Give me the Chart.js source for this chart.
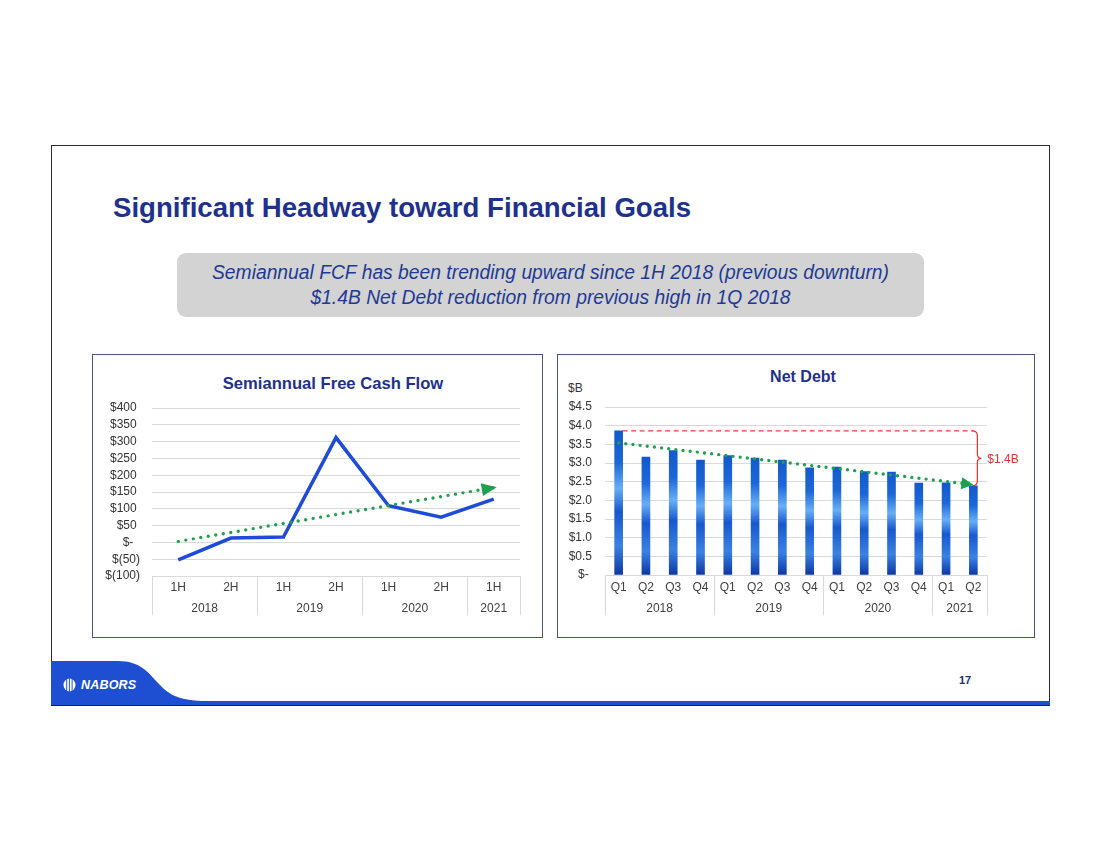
<!DOCTYPE html>
<html>
<head>
<meta charset="utf-8">
<script src="https://cdn.jsdelivr.net/npm/chart.js@4.4.1/dist/chart.umd.min.js"></script>
<style>
  html, body { margin: 0; padding: 0; }
  body { width: 1100px; height: 850px; background: #ffffff; position: relative; overflow: hidden;
         font-family: "Liberation Sans", Arial, sans-serif; }
  .abs { position: absolute; }
  #title { left: 113px; top: 191px; font-size: 27.6px; line-height: 34px; font-weight: bold; color: #1E318C; white-space: nowrap; }
  #callout { left: 177px; top: 253px; width: 747px; height: 64px; background: #D3D3D4; border-radius: 9px;
             color: #1F3A93; font-style: italic; font-size: 19.3px; line-height: 25px; text-align: center;
             box-sizing: border-box; padding-top: 7px; white-space: nowrap; }
  .cbox { box-sizing: border-box; border: 1px solid #48547E; background: #ffffff; }
  .ctitle { font-weight: bold; color: #1E318C; text-align: center; line-height: 20px; white-space: nowrap; }
  canvas { position: absolute; }
</style>
</head>
<body>
<script>
// ---------------- DATA ----------------
const fcfPeriods = ['1H', '2H', '1H', '2H', '1H', '2H', '1H'];
const fcfYears   = ['2018', '2018', '2019', '2019', '2020', '2020', '2021'];
const fcfValues  = [-52, 13, 16, 312, 109, 75, 129];
const fcfTrend   = [3, null, null, null, null, null, 163];
const fcfTickValues = [-100, -50, 0, 50, 100, 150, 200, 250, 300, 350, 400];

const debtQuarters = ['Q1', 'Q2', 'Q3', 'Q4', 'Q1', 'Q2', 'Q3', 'Q4', 'Q1', 'Q2', 'Q3', 'Q4', 'Q1', 'Q2'];
const debtYears    = ['2018', '2018', '2018', '2018', '2019', '2019', '2019', '2019',
                      '2020', '2020', '2020', '2020', '2021', '2021'];
const debtValues   = [3.86, 3.16, 3.33, 3.08, 3.20, 3.13, 3.08, 2.87, 2.89, 2.77, 2.76, 2.46, 2.47, 2.39];
const debtTrend    = [3.54, null, null, null, null, null, null, null, null, null, null, null, null, 2.42];
const debtTickValues = [0, 0.5, 1.0, 1.5, 2.0, 2.5, 3.0, 3.5, 4.0, 4.5];
const debtReductionLabel = '$1.4B';
</script>

<svg class="abs" style="left:0;top:0" width="1100" height="850">
  <line x1="51" y1="145.5" x2="1049" y2="145.5" stroke="#2B2B2B" stroke-width="1"/>
  <line x1="51.5" y1="145" x2="51.5" y2="706" stroke="#2B2B2B" stroke-width="1"/>
  <line x1="1049.5" y1="145" x2="1049.5" y2="706" stroke="#2B2B2B" stroke-width="1"/>
  <path d="M51,661 L118,661 C140,661 148,672 158,683 C170,696 180,700 202,701 L1050,701 L1050,706 L51,706 Z" fill="#1E4FD2"/>
  <line x1="51" y1="705.5" x2="1050" y2="705.5" stroke="#12245E" stroke-width="1"/>
  <g>
    <ellipse cx="69.5" cy="685" rx="6" ry="6.5" fill="#ffffff"/>
    <rect x="66.2" y="678" width="1" height="14" fill="#1E4FD2"/>
    <rect x="68.9" y="678" width="1" height="14" fill="#1E4FD2"/>
    <rect x="71.6" y="678" width="1" height="14" fill="#1E4FD2"/>
  </g>
</svg>

<div id="title" class="abs">Significant Headway toward Financial Goals</div>
<div id="callout" class="abs">Semiannual FCF has been trending upward since 1H 2018 (previous downturn)<br>$1.4B Net Debt reduction from previous high in 1Q 2018</div>

<div class="abs cbox" style="left:92px;top:354px;width:451px;height:284px;"></div>
<div class="abs cbox" style="left:557px;top:354px;width:478px;height:284px;"></div>

<div class="abs ctitle" style="left:183px;top:374px;width:300px;font-size:16.6px;">Semiannual Free Cash Flow</div>
<div class="abs ctitle" style="left:703px;top:367px;width:200px;font-size:16px;">Net Debt</div>
<div class="abs" style="left:568px;top:381px;font-size:12px;line-height:14px;color:#333;">$B</div>

<div class="abs" style="left:81px;top:677px;font-size:12.5px;line-height:16px;font-weight:bold;font-style:italic;color:#fff;letter-spacing:0.2px;">NABORS</div>
<div class="abs" style="left:959px;top:673px;font-size:11px;line-height:14px;font-weight:bold;color:#1E2F6E;">17</div>

<canvas id="fcf" width="448" height="281" style="left:93px;top:355px;"></canvas>
<canvas id="debt" width="475" height="281" style="left:558px;top:355px;"></canvas>

<script>
const FONT = '"Liberation Sans", Arial, sans-serif';

const groupAxisPlugin = {
  id: 'groupAxis',
  afterDraw(chart, args, opts) {
    const { ctx, chartArea } = chart;
    const x = chart.scales.x;
    const n = opts.periods.length;
    const half = (x.getPixelForValue(1) - x.getPixelForValue(0)) / 2;
    const b = chartArea.bottom;
    ctx.save();
    ctx.font = '12px ' + FONT;
    ctx.fillStyle = '#404040';
    ctx.textAlign = 'center';
    ctx.textBaseline = 'middle';
    for (let i = 0; i < n; i++) {
      ctx.fillText(opts.periods[i], x.getPixelForValue(i), b + opts.labelOffset);
    }
    const groups = [];
    let start = 0;
    for (let i = 1; i <= n; i++) {
      if (i === n || opts.years[i] !== opts.years[start]) { groups.push([start, i - 1]); start = i; }
    }
    ctx.strokeStyle = '#D9D9D9';
    ctx.lineWidth = 1;
    groups.forEach((g, k) => {
      const l = x.getPixelForValue(g[0]) - half;
      const r = x.getPixelForValue(g[1]) + half;
      ctx.fillText(opts.years[g[0]], (l + r) / 2, b + opts.yearOffset);
      const xs = k === groups.length - 1 ? [l, r] : [l];
      xs.forEach(px => {
        const p = Math.round(px) + 0.5;
        ctx.beginPath(); ctx.moveTo(p, b); ctx.lineTo(p, b + opts.sepLength); ctx.stroke();
      });
    });
    ctx.restore();
  }
};

const arrowPlugin = {
  id: 'arrowHead',
  afterDatasetsDraw(chart, args, opts) {
    const meta = chart.getDatasetMeta(opts.datasetIndex);
    const pts = meta.data.filter(el => !el.skip && isFinite(el.x) && isFinite(el.y));
    if (pts.length < 2) return;
    const p0 = pts[0], p1 = pts[pts.length - 1];
    const a = Math.atan2(p1.y - p0.y, p1.x - p0.x);
    const tipX = p1.x + Math.cos(a) * opts.extend, tipY = p1.y + Math.sin(a) * opts.extend;
    const bx = tipX - Math.cos(a) * opts.length, by = tipY - Math.sin(a) * opts.length;
    const nx = -Math.sin(a) * opts.halfWidth, ny = Math.cos(a) * opts.halfWidth;
    const ctx = chart.ctx;
    ctx.save();
    ctx.fillStyle = opts.color;
    ctx.beginPath();
    ctx.moveTo(tipX, tipY);
    ctx.lineTo(bx + nx, by + ny);
    ctx.lineTo(bx - nx, by - ny);
    ctx.closePath();
    ctx.fill();
    ctx.restore();
  }
};

const reductionPlugin = {
  id: 'reduction',
  afterDatasetsDraw(chart, args, opts) {
    const y = chart.scales.y;
    const bars = chart.getDatasetMeta(opts.barIndex).data;
    const last = debtValues.length - 1;
    const yTop = y.getPixelForValue(debtValues[0]);
    const yBot = y.getPixelForValue(debtValues[last]);
    const x0 = bars[0].x + bars[0].width / 2;
    const xb = bars[last].x + 2;
    const mid = (yTop + yBot) / 2;
    const ctx = chart.ctx;
    ctx.save();
    ctx.strokeStyle = '#EE3B3B';
    ctx.lineWidth = 1.3;
    ctx.setLineDash([5, 3.5]);
    ctx.beginPath(); ctx.moveTo(x0, yTop); ctx.lineTo(xb - 2, yTop); ctx.stroke();
    ctx.setLineDash([]);
    ctx.strokeStyle = '#E83030';
    ctx.lineWidth = 1.2;
    ctx.beginPath();
    ctx.moveTo(xb - 3, yTop);
    ctx.quadraticCurveTo(xb + 2, yTop, xb + 2, yTop + 5);
    ctx.lineTo(xb + 2, mid - 4);
    ctx.quadraticCurveTo(xb + 2, mid, xb + 6, mid);
    ctx.quadraticCurveTo(xb + 2, mid, xb + 2, mid + 4);
    ctx.lineTo(xb + 2, yBot - 5);
    ctx.quadraticCurveTo(xb + 2, yBot, xb - 3, yBot);
    ctx.stroke();
    ctx.fillStyle = '#E62E2E';
    ctx.font = '12px ' + FONT;
    ctx.textAlign = 'left';
    ctx.textBaseline = 'middle';
    ctx.fillText(opts.label, xb + 12, mid + 1);
    ctx.restore();
  }
};

Chart.defaults.font.family = FONT;
Chart.defaults.font.size = 12;
Chart.defaults.color = '#333333';

// ---------- Left: Semiannual Free Cash Flow ----------
new Chart(document.getElementById('fcf'), {
  type: 'line',
  data: {
    labels: fcfPeriods,
    datasets: [
      {
        label: 'FCF',
        data: fcfValues,
        borderColor: '#1E4BD8',
        borderWidth: 3.5,
        pointRadius: 0,
        tension: 0,
        order: 1
      },
      {
        label: 'Trend',
        data: fcfTrend,
        spanGaps: true,
        borderColor: '#1FA04E',
        borderWidth: 3.4,
        borderDash: [0, 7.6],
        borderCapStyle: 'round',
        pointRadius: 0,
        order: 0
      }
    ]
  },
  options: {
    responsive: false,
    animation: false,
    layout: { padding: { left: 0, right: 21, top: 53, bottom: 60 } },
    plugins: {
      legend: { display: false },
      tooltip: { enabled: false },
      groupAxis: { periods: fcfPeriods, years: fcfYears, labelOffset: 12, yearOffset: 33, sepLength: 39 },
      arrowHead: { datasetIndex: 1, extend: 3, length: 15, halfWidth: 6.5, color: '#1FA04E' }
    },
    scales: {
      x: { display: false, offset: true },
      y: {
        min: fcfTickValues[0],
        max: fcfTickValues[fcfTickValues.length - 1],
        afterFit(scale) { scale.width = 59; },
        afterBuildTicks(scale) { scale.ticks = fcfTickValues.map(v => ({ value: v })); },
        border: { display: false },
        grid: { color: '#D9D9D9', lineWidth: 1, drawTicks: false },
        ticks: {
          autoSkip: false,
          padding: 12,
          color: '#333333',
          font: { size: 12 },
          callback: v => v === 0 ? '$-  ' : (v < 0 ? '$(' + (-v) + ')' : '$' + v + ' ')
        }
      }
    }
  },
  plugins: [groupAxisPlugin, arrowPlugin]
});

// ---------- Right: Net Debt ----------
function barGradient(ctx) {
  const chart = ctx.chart;
  if (!chart.chartArea || ctx.type !== 'data') return '#1458CC';
  const y = chart.scales.y;
  const top = y.getPixelForValue(ctx.raw);
  const base = y.getPixelForValue(0);
  const g = chart.ctx.createLinearGradient(0, top, 0, base);
  g.addColorStop(0.00, '#1358CC');
  g.addColorStop(0.22, '#1C68D8');
  g.addColorStop(0.40, '#68AEF6');
  g.addColorStop(0.56, '#1858CE');
  g.addColorStop(0.80, '#3A82E2');
  g.addColorStop(1.00, '#0C36A6');
  return g;
}

new Chart(document.getElementById('debt'), {
  type: 'bar',
  data: {
    labels: debtQuarters,
    datasets: [
      {
        type: 'bar',
        label: 'Net Debt',
        data: debtValues,
        backgroundColor: barGradient,
        barThickness: 8,
        order: 1
      },
      {
        type: 'line',
        label: 'Trend',
        data: debtTrend,
        spanGaps: true,
        borderColor: '#1FA04E',
        borderWidth: 3.4,
        borderDash: [0, 7.2],
        borderCapStyle: 'round',
        pointRadius: 0,
        order: 0
      }
    ]
  },
  options: {
    responsive: false,
    animation: false,
    layout: { padding: { left: 0, right: 46, top: 52, bottom: 61 } },
    plugins: {
      legend: { display: false },
      tooltip: { enabled: false },
      groupAxis: { periods: debtQuarters, years: debtYears, labelOffset: 13, yearOffset: 34, sepLength: 40 },
      arrowHead: { datasetIndex: 1, extend: 0, length: 12, halfWidth: 6, color: '#1FA04E' },
      reduction: { barIndex: 0, label: debtReductionLabel }
    },
    scales: {
      x: { display: false, offset: true },
      y: {
        min: debtTickValues[0],
        max: debtTickValues[debtTickValues.length - 1],
        afterFit(scale) { scale.width = 47; },
        afterBuildTicks(scale) { scale.ticks = debtTickValues.map(v => ({ value: v })); },
        border: { display: false },
        grid: { color: '#D9D9D9', lineWidth: 1, drawTicks: false },
        ticks: {
          autoSkip: false,
          padding: 13,
          color: '#333333',
          font: { size: 12 },
          callback: v => v === 0 ? '$- ' : '$' + v.toFixed(1)
        }
      }
    }
  },
  plugins: [groupAxisPlugin, arrowPlugin, reductionPlugin]
});
</script>
</body>
</html>
